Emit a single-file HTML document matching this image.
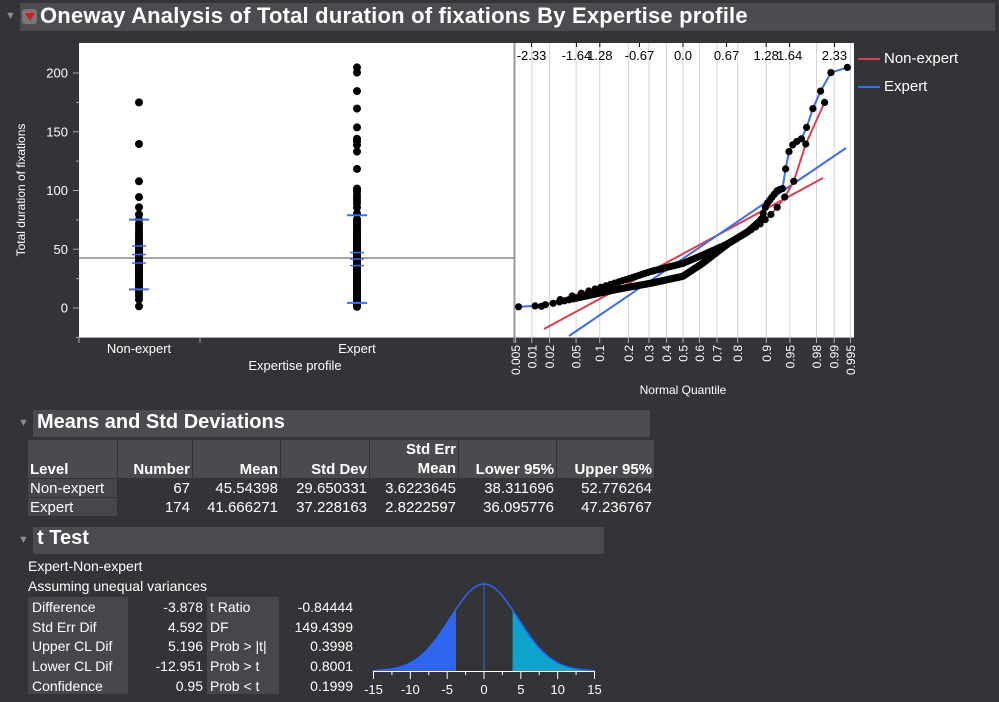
<!DOCTYPE html>
<html><head><meta charset="utf-8"><style>
body{margin:0;background:#333437;width:999px;height:702px;overflow:hidden;font-family:"Liberation Sans",Arial,sans-serif;color:#fff}
.abs{position:absolute}
.bar{position:absolute;background:#4b4c50;color:#fff;font-weight:bold}
.tri{position:absolute;color:#8a8b8e;font-size:11px}
table{border-collapse:separate;border-spacing:1px}
</style></head><body>
<div class="tri" style="left:5px;top:10px">▼</div>
<div class="bar" style="left:20px;top:3px;width:975px;height:28px"></div>
<div class="abs" style="left:22px;top:9px;width:15px;height:15px;background:#777;border-radius:3px"><div style="position:absolute;left:3px;top:4px;width:0;height:0;border-left:5px solid transparent;border-right:5px solid transparent;border-top:8px solid #d01c1c"></div></div>
<div class="abs" style="left:40px;top:3px;font-size:22px;font-weight:bold;letter-spacing:0.2px">Oneway Analysis of Total duration of fixations By Expertise profile</div>

<svg class="abs" style="left:0;top:0" width="999" height="702" id="s">
<rect x="79" y="43" width="435" height="294" fill="#fff"/>
<rect x="515" y="43" width="339" height="294" fill="#fff"/>
<line x1="514.5" y1="43" x2="514.5" y2="337" stroke="#999" stroke-width="2"/>
<g id="g"></g>
</svg>
<div class="abs" style="left:22px;top:190px;transform:translate(0,-50%) rotate(-90deg);transform-origin:center;width:0;"><div style="position:absolute;left:-90px;top:-8px;width:180px;text-align:center;font-size:12px">Total duration of fixations</div></div>
<div class="abs" style="left:858px;top:58px;width:22px;height:2px;background:#d93f4a"></div>
<div class="abs" style="left:884px;top:50px;font-size:15px">Non-expert</div>
<div class="abs" style="left:858px;top:86px;width:22px;height:2px;background:#3d6ee6"></div>
<div class="abs" style="left:884px;top:78px;font-size:15px">Expert</div>

<div class="tri" style="left:18px;top:417px">▼</div>
<div class="bar" style="left:33px;top:410px;width:617px;height:27px"></div>
<div class="abs" style="left:37px;top:411px;font-size:20px;font-weight:bold">Means and Std Deviations</div>
<div class="abs" style="left:27px;top:439px;font-size:15px">
<table style="font-size:15px">
<tr style="font-weight:bold;background:#4a4b4f"><td style="width:85px;vertical-align:bottom;height:36px;padding:0 2px">Level</td><td style="width:70px;text-align:right;vertical-align:bottom;padding:0 2px">Number</td><td style="width:83px;text-align:right;vertical-align:bottom;padding:0 2px">Mean</td><td style="width:84px;text-align:right;vertical-align:bottom;padding:0 2px">Std Dev</td><td style="width:84px;text-align:right;vertical-align:bottom;padding:0 2px;line-height:19px">Std Err<br>Mean</td><td style="width:93px;text-align:right;vertical-align:bottom;padding:0 2px">Lower 95%</td><td style="width:93px;text-align:right;vertical-align:bottom;padding:0 2px">Upper 95%</td></tr>
<tr style="height:18px"><td style="background:#46474b;padding:0 2px">Non-expert</td><td style="text-align:right;padding:0 2px">67</td><td style="text-align:right;padding:0 2px">45.54398</td><td style="text-align:right;padding:0 2px">29.650331</td><td style="text-align:right;padding:0 2px">3.6223645</td><td style="text-align:right;padding:0 2px">38.311696</td><td style="text-align:right;padding:0 2px">52.776264</td></tr>
<tr style="height:18px"><td style="background:#46474b;padding:0 2px">Expert</td><td style="text-align:right;padding:0 2px">174</td><td style="text-align:right;padding:0 2px">41.666271</td><td style="text-align:right;padding:0 2px">37.228163</td><td style="text-align:right;padding:0 2px">2.8222597</td><td style="text-align:right;padding:0 2px">36.095776</td><td style="text-align:right;padding:0 2px">47.236767</td></tr>
</table></div>

<div class="tri" style="left:18px;top:534px">▼</div>
<div class="bar" style="left:33px;top:527px;width:571px;height:27px"></div>
<div class="abs" style="left:37px;top:527px;font-size:20px;font-weight:bold">t Test</div>
<div class="abs" style="left:28px;top:558px;font-size:14px">Expert-Non-expert</div>
<div class="abs" style="left:28px;top:578px;font-size:14px">Assuming unequal variances</div>
<div class="abs" style="left:28px;top:597px;width:100px;height:97px;background:#46474b"></div>
<div class="abs" style="left:207px;top:597px;width:72px;height:97px;background:#46474b"></div>
<div class="abs" style="left:32px;top:598px;font-size:14px;line-height:19.7px">Difference<br>Std Err Dif<br>Upper CL Dif<br>Lower CL Dif<br>Confidence</div>
<div class="abs" style="left:128px;top:598px;width:75px;text-align:right;font-size:14px;line-height:19.7px">-3.878<br>4.592<br>5.196<br>-12.951<br>0.95</div>
<div class="abs" style="left:210px;top:598px;font-size:14px;line-height:19.7px">t Ratio<br>DF<br>Prob &gt; |t|<br>Prob &gt; t<br>Prob &lt; t</div>
<div class="abs" style="left:283px;top:598px;width:70px;text-align:right;font-size:14px;line-height:19.7px">-0.84444<br>149.4399<br>0.3998<br>0.8001<br>0.1999</div>

<script>
var g=document.getElementById('g'),h='';
function Y(v){return 308-1.175*v}
[0,50,100,150,200].forEach(function(v){h+='<line x1="73" x2="79" y1="'+Y(v)+'" y2="'+Y(v)+'" stroke="#aaa"/><text x="68" y="'+(Y(v)+4.5)+'" fill="#fff" font-size="13" text-anchor="end">'+v+'</text>';});
[25,75,125,175,-25].forEach(function(v){h+='<line x1="76" x2="79" y1="'+Y(v)+'" y2="'+Y(v)+'" stroke="#aaa"/>';});
h+='<line x1="79" x2="514" y1="337.5" y2="337.5" stroke="#aaa"/><line x1="79" x2="79" y1="337" y2="343" stroke="#aaa"/><line x1="200" x2="200" y1="337" y2="343" stroke="#aaa"/><line x1="514" x2="514" y1="337" y2="343" stroke="#aaa"/>';
h+='<text x="139" y="353" fill="#fff" font-size="13" text-anchor="middle">Non-expert</text><text x="357" y="353" fill="#fff" font-size="13" text-anchor="middle">Expert</text><text x="295" y="370" fill="#fff" font-size="13" text-anchor="middle">Expertise profile</text>';
h+='<line x1="79" x2="514" y1="258" y2="258" stroke="#888" stroke-width="1.5"/>';
function probit(p){var a=[-39.696830,220.946098,-275.928510,138.357751,-30.664798,2.506628],b=[-54.476098,161.585836,-155.698979,66.801311,-13.280681],c=[-0.007784894,-0.32239645,-2.400758,-2.549732,4.374664,2.938163],d=[0.007784695,0.32246712,2.445134,3.754408],q,r;
if(p<0.02425){q=Math.sqrt(-2*Math.log(p));return(((((c[0]*q+c[1])*q+c[2])*q+c[3])*q+c[4])*q+c[5])/((((d[0]*q+d[1])*q+d[2])*q+d[3])*q+1);}
if(p>1-0.02425){return -probit(1-p);}
q=p-0.5;r=q*q;return(((((a[0]*r+a[1])*r+a[2])*r+a[3])*r+a[4])*r+a[5])*q/(((((b[0]*r+b[1])*r+b[2])*r+b[3])*r+b[4])*r+1);}
function interp(k,z){if(z<=k[0][0])return k[0][1];for(var i=1;i<k.length;i++){if(z<=k[i][0]){var t=(z-k[i-1][0])/(k[i][0]-k[i-1][0]);return k[i-1][1]+t*(k[i][1]-k[i-1][1]);}}return k[k.length-1][1];}
var KE=[[-2.55,1],[-2.2,2],[-2.0,4],[-1.5,10],[-1,16],[-0.5,21],[0,27],[0.3,38],[0.7,55],[1.0,65],[1.2,75],[1.28,88],[1.45,100],[1.55,102],[1.6,130],[1.7,140],[1.85,145],[2.0,170],[2.2,195],[2.3,202],[2.55,205]];
var KN=[[-2.2,1],[-1.9,7],[-1.6,12],[-1,22],[-0.5,31],[0,38],[0.3,45],[0.7,55],[1.0,65],[1.2,72],[1.4,82],[1.55,93],[1.7,107],[1.95,150],[2.15,175]];
var qs=[0.005,0.01,0.02,0.05,0.1,0.2,0.3,0.4,0.5,0.6,0.7,0.8,0.9,0.95,0.98,0.99,0.995];
function X(z){return 683+65*z}
qs.forEach(function(p){var x=X(probit(p));h+='<line x1="'+x+'" x2="'+x+'" y1="43" y2="337" stroke="#d4d4d4"/><line x1="'+x+'" x2="'+x+'" y1="337" y2="343" stroke="#aaa"/><text transform="translate('+(x+4.5)+',345) rotate(-90)" fill="#fff" font-size="12" text-anchor="end">'+p+'</text>';});
h+='<line x1="515" x2="854" y1="337.5" y2="337.5" stroke="#aaa"/>';
[[-2.33,'-2.33'],[-1.64,'-1.64'],[-1.28,'1.28'],[-0.67,'-0.67'],[0,'0.0'],[0.67,'0.67'],[1.28,'1.28'],[1.64,'1.64'],[2.33,'2.33']].forEach(function(t){var x=X(t[0]);h+='<line x1="'+x+'" x2="'+x+'" y1="43" y2="47" stroke="#000"/><text x="'+x+'" y="60" fill="#000" font-size="13" text-anchor="middle">'+t[1]+'</text>';});
h+='<text x="683" y="394" fill="#fff" font-size="12" text-anchor="middle">Normal Quantile</text>';
function series(K,n,col,cx){var pts=[],dots='',ld='';for(var i=1;i<=n;i++){var z=probit(i/(n+1)),v=interp(K,z);pts.push(X(z).toFixed(1)+','+Y(v).toFixed(1));dots+='<circle cx="'+X(z).toFixed(1)+'" cy="'+Y(v).toFixed(1)+'" r="3.6" fill="#000"/>';ld+='<circle cx="'+cx+'" cy="'+Y(v).toFixed(1)+'" r="4" fill="#000"/>';}
return {line:'<polyline points="'+pts.join(' ')+'" fill="none" stroke="'+col+'" stroke-width="2"/>',dots:dots,ld:ld};}
var E=series(KE,174,'#3d6ee6',357),N=series(KN,67,'#d93f4a',139);
h+=N.ld+E.ld;
function mk(cx,w,v,sw){return '<line x1="'+(cx-w)+'" x2="'+(cx+w)+'" y1="'+Y(v)+'" y2="'+Y(v)+'" stroke="#3d6ee6" stroke-width="'+sw+'"/>';}
h+=mk(139,10,75.2,2)+mk(139,10,15.9,2)+mk(139,7,45.5,1.5)+mk(139,7,38.3,1.5)+mk(139,7,52.8,1.5);
h+=mk(357,10,78.9,2)+mk(357,10,4.4,2)+mk(357,7,41.7,1.5)+mk(357,7,36.1,1.5)+mk(357,7,47.2,1.5);
h+='<line x1="544" y1="329" x2="823" y2="178" stroke="#d93f4a" stroke-width="2"/><line x1="569" y1="336" x2="846" y2="148" stroke="#3d6ee6" stroke-width="2"/>';
h+=N.line+E.line+N.dots+E.dots;
function TX(t){return 484+t*(221/30)}
function TY(t){return 671-87*Math.exp(-0.5*Math.pow(t/4.592,2))}
var L='M'+TX(-15)+',671',R='M'+TX(3.878)+',671',C='M'+TX(-15)+','+TY(-15);
for(var t=-15;t<=-3.878;t+=0.1)L+=' L'+TX(t).toFixed(1)+','+TY(t).toFixed(1);
L+=' L'+TX(-3.878)+','+TY(-3.878)+' L'+TX(-3.878)+',671Z';
for(var t=3.878;t<=15.01;t+=0.1)R+=' L'+TX(t).toFixed(1)+','+TY(t).toFixed(1);
R+=' L'+TX(15)+',671Z';
for(var t=-15;t<=15.01;t+=0.1)C+=' L'+TX(t).toFixed(1)+','+TY(t).toFixed(1);
h+='<path d="'+L+'" fill="#2e66f0"/><path d="'+R+'" fill="#0ea3cc"/><path d="'+C+'" fill="none" stroke="#2e66f0" stroke-width="1.5"/>';
h+='<line x1="'+TX(-3.878)+'" x2="'+TX(-3.878)+'" y1="'+TY(-3.878)+'" y2="671" stroke="#e03040"/><line x1="484" x2="484" y1="584" y2="671" stroke="#2e66f0"/>';
h+='<line x1="373" x2="594" y1="671.5" y2="671.5" stroke="#fff"/>';
for(var t=-15;t<=15;t+=2.5){var x=TX(t);h+='<line x1="'+x+'" x2="'+x+'" y1="671" y2="'+(t%5==0?679:675)+'" stroke="#fff"/>';if(t%5==0)h+='<text x="'+x+'" y="694" fill="#fff" font-size="13" text-anchor="middle">'+t+'</text>';}
g.innerHTML=h;
</script>
</body></html>
